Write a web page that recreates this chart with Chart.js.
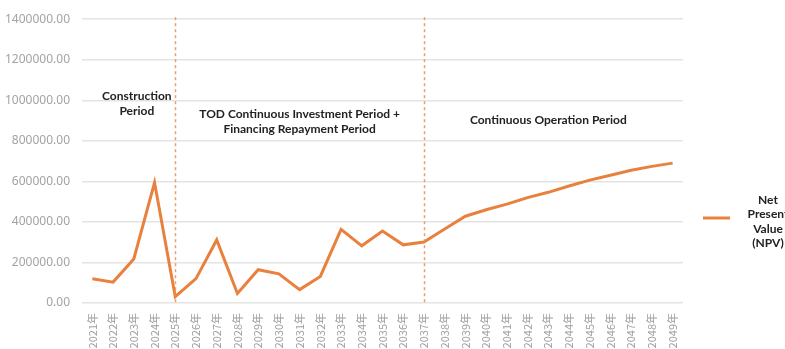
<!DOCTYPE html>
<html>
<head>
<meta charset="utf-8">
<script src="https://cdn.jsdelivr.net/npm/chart.js@4.4.0/dist/chart.umd.min.js"></script>
<style>
  html, body { margin: 0; padding: 0; background: #fff; }
  #wrap { width: 785px; height: 349px; }
</style>
</head>
<body>
<div id="wrap"><canvas id="npvChart"></canvas></div>
<script>
const years = [
    "2021年", "2022年", "2023年", "2024年", "2025年", "2026年", "2027年", "2028年",
    "2029年", "2030年", "2031年", "2032年", "2033年", "2034年", "2035年", "2036年",
    "2037年", "2038年", "2039年", "2040年", "2041年", "2042年", "2043年", "2044年",
    "2045年", "2046年", "2047年", "2048年", "2049年"
];

const npvValues = [
    120000, 103000, 217000, 594000, 31000, 120000, 311000, 47000,
    164000, 144000, 66000, 131000, 363000, 282000, 355000, 287000,
    301000, 365000, 428000, 460000, 488000, 520000, 546000, 577000,
    606000, 630000, 655000, 674000, 690000
];

const seriesName = ["Net", "Present", "Value", "(NPV)"];

// period boundaries and their captions
const periodMarks = ["2025年", "2037年"];
const periodLabels = [
    { lines: ["Construction", "Period"], at: "2023年", shift: 3, value: 1021000 },
    { lines: ["TOD Continuous Investment Period +", "Financing Repayment Period"], at: "2031年", shift: 0, value: 933000 },
    { lines: ["Continuous Operation Period"], at: "2043年", shift: 0, value: 900000 }
];

const lineColor = "#E8813D";

const periodPlugin = {
    id: "periods",
    afterDatasetsDraw(chart) {
        const { ctx, scales, chartArea } = chart;
        ctx.save();

        // dashed dividers
        ctx.strokeStyle = "rgba(236,140,80,0.85)";
        ctx.lineWidth = 1.5;
        ctx.setLineDash([3, 3]);
        periodMarks.forEach(m => {
            const x = Math.round(scales.x.getPixelForValue(years.indexOf(m))) + 0.5;
            ctx.beginPath();
            ctx.moveTo(x, chartArea.top - 2);
            ctx.lineTo(x, chartArea.bottom);
            ctx.stroke();
        });
        ctx.setLineDash([]);

        // captions
        ctx.fillStyle = "#222";
        ctx.font = "bold 12px Lato, 'Noto Sans', sans-serif";
        ctx.textAlign = "center";
        ctx.textBaseline = "middle";
        periodLabels.forEach(p => {
            const x = scales.x.getPixelForValue(years.indexOf(p.at)) + p.shift;
            const y0 = scales.y.getPixelForValue(p.value);
            p.lines.forEach((line, i) => ctx.fillText(line, x, y0 + i * 15));
        });

        // legend on the right
        const ly = 218;
        ctx.strokeStyle = lineColor;
        ctx.lineWidth = 3;
        ctx.beginPath();
        ctx.moveTo(703, ly);
        ctx.lineTo(730, ly);
        ctx.stroke();
        ctx.fillStyle = "#222";
        seriesName.forEach((t, i) => ctx.fillText(t, 768, 200 + i * 14.5));

        ctx.restore();
    }
};

new Chart(document.getElementById("npvChart"), {
    type: "line",
    data: {
        labels: years,
        datasets: [{
            label: "Net Present Value (NPV)",
            data: npvValues,
            borderColor: lineColor,
            backgroundColor: lineColor,
            borderWidth: 3,
            pointRadius: 0,
            tension: 0
        }]
    },
    options: {
        responsive: true,
        maintainAspectRatio: false,
        animation: false,
        layout: { padding: { top: 11, right: 102, left: 0, bottom: 0 } },
        plugins: {
            legend: { display: false },
            tooltip: { enabled: false }
        },
        scales: {
            x: {
                offset: true,
                grid: { display: false },
                border: { display: false },
                ticks: {
                    autoSkip: false,
                    minRotation: 90,
                    maxRotation: 90,
                    padding: 2,
                    color: "#a0a0a0",
                    font: { size: 11, family: "'Noto Sans CJK SC', sans-serif" }
                },
                afterFit(scale) { scale.height = 46; }
            },
            y: {
                min: 0,
                max: 1400000,
                ticks: {
                    stepSize: 200000,
                    padding: 12,
                    color: "#a3a3a3",
                    font: { size: 12, family: "'Noto Sans', sans-serif" },
                    callback: v => v.toFixed(2)
                },
                grid: { color: "#e4e4e4", lineWidth: 1.5, drawTicks: false },
                border: { display: false },
                afterFit(scale) { scale.width = 82; }
            }
        }
    },
    plugins: [periodPlugin]
});
</script>
</body>
</html>
